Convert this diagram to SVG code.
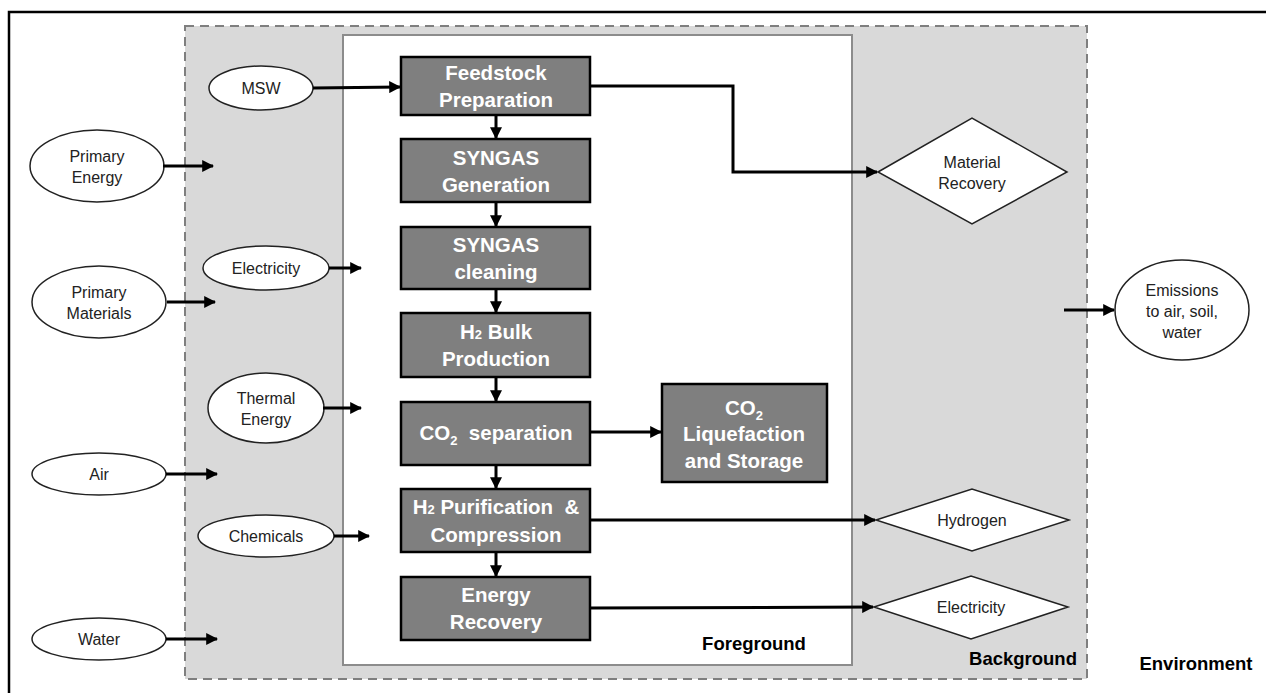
<svg xmlns="http://www.w3.org/2000/svg" width="1266" height="693" viewBox="0 0 1266 693">
<style>
.proc rect{fill:#7f7f7f;stroke:#000;stroke-width:2.5}
.proc text{fill:#fff;font-family:"Liberation Sans",Arial,sans-serif;font-weight:bold;font-size:20.5px;text-anchor:middle}
.oval ellipse,.dia polygon{fill:#fff;stroke:#222;stroke-width:1.5}
.oval text,.dia text{fill:#222;font-family:"Liberation Sans",Arial,sans-serif;font-size:16px;text-anchor:middle}
.lbl{fill:#000;font-family:"Liberation Sans",Arial,sans-serif;font-weight:bold;font-size:18.5px;text-anchor:middle}
.conn path{fill:none;stroke:#000;stroke-width:3;marker-end:url(#ah)}
</style>
<defs>
<marker id="ah" viewBox="0 0 10 10" refX="9" refY="5" markerWidth="4" markerHeight="4" markerUnits="strokeWidth" orient="auto">
<path d="M0,0 L10,5 L0,10 z" fill="#000"/>
</marker>
</defs>
<rect x="0" y="0" width="1266" height="693" fill="#fff"/>
<g id="environment">
<rect x="9" y="12" width="1300" height="700" fill="none" stroke="#000" stroke-width="2.5"/>
<text class="lbl" x="1196" y="670">Environment</text>
</g>
<g id="background">
<rect x="185" y="26" width="902" height="653" fill="#d9d9d9" stroke="#7f7f7f" stroke-width="2" stroke-dasharray="9,6"/>
<text class="lbl" x="1023" y="665">Background</text>
</g>
<g id="foreground">
<rect x="343" y="35" width="509" height="630" fill="#fff" stroke="#8c8c8c" stroke-width="2"/>
<text class="lbl" x="754" y="650">Foreground</text>
</g>
<g class="proc" id="feedstock"><rect x="401" y="57" width="189" height="58"/><text x="496" y="80">Feedstock</text><text x="496" y="107">Preparation</text></g>
<g class="proc" id="syngas-gen"><rect x="401" y="139" width="189" height="63"/><text x="496" y="165">SYNGAS</text><text x="496" y="192">Generation</text></g>
<g class="proc" id="syngas-clean"><rect x="401" y="227" width="189" height="62"/><text x="496" y="252">SYNGAS</text><text x="496" y="279">cleaning</text></g>
<g class="proc" id="h2-bulk"><rect x="401" y="313" width="189" height="64"/><text x="496" y="339">H<tspan font-size="13">2</tspan> Bulk</text><text x="496" y="366">Production</text></g>
<g class="proc" id="co2-sep"><rect x="401" y="402" width="189" height="63"/><text x="496" y="440" xml:space="preserve">CO<tspan font-size="13" dy="5">2</tspan><tspan dy="-5">  separation</tspan></text></g>
<g class="proc" id="co2-liq"><rect x="662" y="384" width="165" height="98"/><text x="744" y="415">CO<tspan font-size="13" dy="5">2</tspan></text><text x="744" y="441">Liquefaction</text><text x="744" y="468">and Storage</text></g>
<g class="proc" id="h2-pur"><rect x="401" y="489" width="189" height="63"/><text x="496" y="514" xml:space="preserve">H<tspan font-size="13">2</tspan> Purification  &amp;</text><text x="496" y="542">Compression</text></g>
<g class="proc" id="energy-rec"><rect x="401" y="577" width="189" height="63"/><text x="496" y="602">Energy</text><text x="496" y="629">Recovery</text></g>
<g class="oval" id="msw"><ellipse cx="261" cy="88" rx="52" ry="22"/><text x="261" y="94">MSW</text></g>
<g class="oval" id="primary-energy"><ellipse cx="97" cy="166" rx="67" ry="36"/><text x="97" y="162">Primary</text><text x="97" y="183">Energy</text></g>
<g class="oval" id="electricity-in"><ellipse cx="266" cy="268" rx="63" ry="22"/><text x="266" y="274">Electricity</text></g>
<g class="oval" id="primary-materials"><ellipse cx="99" cy="302" rx="67" ry="36"/><text x="99" y="298">Primary</text><text x="99" y="319">Materials</text></g>
<g class="oval" id="thermal-energy"><ellipse cx="266" cy="408" rx="58" ry="35"/><text x="266" y="404">Thermal</text><text x="266" y="425">Energy</text></g>
<g class="oval" id="air"><ellipse cx="99" cy="474" rx="67" ry="21"/><text x="99" y="480">Air</text></g>
<g class="oval" id="chemicals"><ellipse cx="266" cy="536" rx="68" ry="21"/><text x="266" y="542">Chemicals</text></g>
<g class="oval" id="water"><ellipse cx="99" cy="639" rx="67" ry="21"/><text x="99" y="645">Water</text></g>
<g class="oval" id="emissions"><ellipse cx="1182" cy="310" rx="67" ry="50"/><text x="1182" y="296">Emissions</text><text x="1182" y="317">to air, soil,</text><text x="1182" y="338">water</text></g>
<g class="dia" id="material-recovery"><polygon points="878,172 972,118 1067,172 972,224"/><text x="972" y="168">Material</text><text x="972" y="189">Recovery</text></g>
<g class="dia" id="hydrogen"><polygon points="876,520 972,489 1069,520 972,551"/><text x="972" y="526">Hydrogen</text></g>
<g class="dia" id="electricity-out"><polygon points="874,607 971,576 1068,607 971,639"/><text x="971" y="613">Electricity</text></g>
<g class="conn" id="connectors">
<path d="M313,88 L400,87"/>
<path d="M496,115 L496,138"/>
<path d="M496,202 L496,226"/>
<path d="M496,289 L496,312"/>
<path d="M496,377 L496,401"/>
<path d="M496,465 L496,488"/>
<path d="M496,552 L496,576"/>
<path d="M590,432 L661,432"/>
<path d="M590,86 L733,86 L733,172 L877,172"/>
<path d="M590,520 L875,520"/>
<path d="M590,608 L873,607"/>
<path d="M163,166 L213,166"/>
<path d="M167,302 L215,302"/>
<path d="M166,474 L217,474"/>
<path d="M166,639 L217,639"/>
<path d="M329,268 L361,268"/>
<path d="M323,408 L361,408"/>
<path d="M334,536 L369,536"/>
<path d="M1064,310 L1114,310"/>
</g>
</svg>
